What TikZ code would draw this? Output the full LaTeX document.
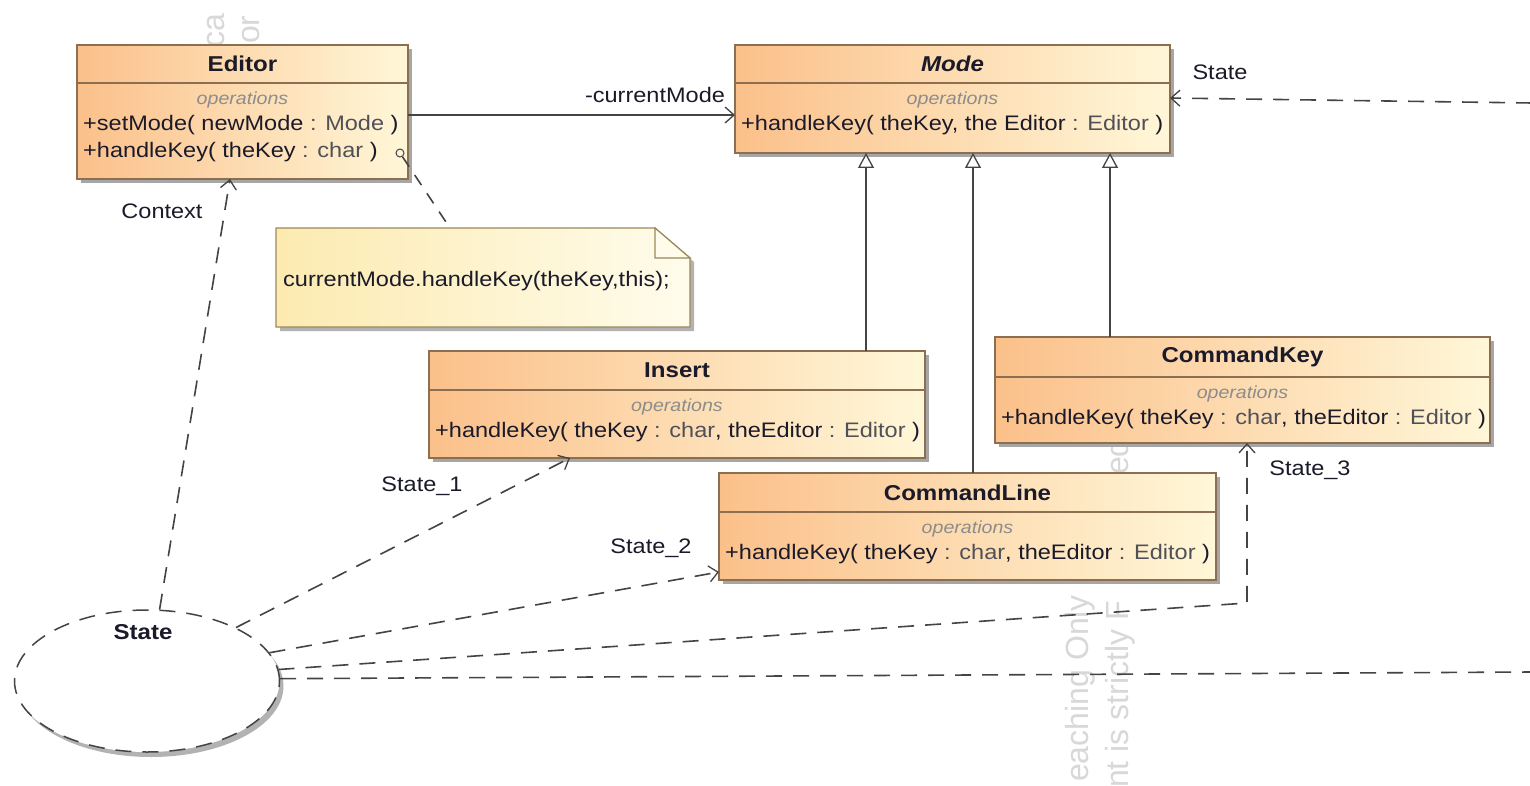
\documentclass[tikz,border=0pt]{standalone}
\usepackage{fontspec}
\setmainfont{Liberation Sans}[FakeStretch=1.12]
\newfontfamily\wmfont{Liberation Sans}
\usetikzlibrary{arrows.meta,shapes.geometric,shadows,calc}

\definecolor{boxL}{HTML}{FBC08A}
\definecolor{boxR}{HTML}{FFF7D8}
\definecolor{boxB}{HTML}{8C6E50}
\definecolor{txt}{HTML}{1A1A2A}
\definecolor{typ}{HTML}{505058}
\definecolor{opsc}{HTML}{8C8C8C}
\definecolor{dashc}{HTML}{444444}
\definecolor{noteL}{HTML}{FCEAB0}
\definecolor{noteR}{HTML}{FFFCEC}
\definecolor{noteB}{HTML}{9A8A5A}
\definecolor{wmc}{HTML}{D8D8D8}

\newcommand\ty[1]{\textcolor{typ}{#1}}
\newcommand\umlclass[8]{%
  \node[classbox, minimum width={(#4-#2)*1pt}, minimum height={(#5-#3)*1pt}] (#1) at (#2,#3) {};
  \draw[boxB, line width=1.3pt] (#2,#6) -- (#4,#6);
  \node[titletext] (#1-title) at ({(#2+#4)/2},{(#3+#6)/2}) {#7};
  \node[opstext] (#1-ops) at ({(#2+#4)/2},#6+17) {operations};
  \node[optext] (#1-op) at (#2+6,#6+42) {#8};
}

\tikzset{
  classbox/.style={draw=boxB, line width=1.3pt, left color=boxL, right color=boxR,
    inner sep=0pt, outer sep=0pt, anchor=north west,
    drop shadow={shadow xshift=4pt, shadow yshift=-4pt, fill=black!35, opacity=1}},
  titletext/.style={font=\fontsize{21.5}{25}\selectfont\bfseries, text=txt, inner sep=0pt},
  opstext/.style={font=\fontsize{17.5}{20}\selectfont\itshape, text=opsc, inner sep=0pt},
  optext/.style={font=\fontsize{21}{25}\selectfont, text=txt, inner sep=0pt, anchor=west},
  lbl/.style={font=\fontsize{21}{25}\selectfont, text=txt, inner sep=0pt},
  wm/.style={font=\wmfont\fontsize{32}{36}\selectfont, text=wmc, rotate=90, inner sep=0pt, anchor=base west},
  dep/.style={draw=dashc, line width=1.6pt, dash pattern=on 16pt off 11pt,
    -{Straight Barb[length=9pt, width=16pt, line width=1.3pt]}},
  deplain/.style={draw=dashc, line width=1.6pt, dash pattern=on 16pt off 11pt},
  assoc/.style={draw=dashc, line width=1.5pt, -{Straight Barb[length=9pt, width=16pt, line width=1.3pt]}},
  gen/.style={draw=dashc, line width=1.5pt, -{Triangle[open, length=15pt, width=16pt, line width=1.3pt, fill=white]}},
}

\begin{document}
\begin{tikzpicture}[x=1pt, y=-1pt]
\useasboundingbox (0,0) rectangle (1530,786);
\clip (0,0) rectangle (1530,786);
\fill[white] (0,0) rectangle (1530,786);

% watermark fragments
\node[wm] (wm1) at (224,48) {ca};
\node[wm] (wm2) at (259,44) {or};
\node[wm] (wm3) at (1088,782) {eaching Only};
\node[wm] (wm4) at (1128,788) {nt is strictly F};
\node[wm] (wm5) at (1128,475) {ed};

% classes
\umlclass{editor}{77}{45}{408}{179}{83}{Editor}{+setMode( newMode \ty{: Mode} )}
\node[optext] (editor-op2) at (83,152) {+handleKey( theKey \ty{: char} )};
\umlclass{mode}{735}{45}{1170}{153}{83}{\itshape Mode}{+handleKey( theKey, the Editor \ty{: Editor} )}
\umlclass{insert}{429}{351}{925}{458}{390}{Insert}{+handleKey( theKey \ty{: char}, theEditor \ty{: Editor} )}
\umlclass{ck}{995}{337}{1490}{443}{377}{CommandKey}{+handleKey( theKey \ty{: char}, theEditor \ty{: Editor} )}
\umlclass{cl}{719}{473}{1216}{580}{512}{CommandLine}{+handleKey( theKey \ty{: char}, theEditor \ty{: Editor} )}

% note
\begin{scope}[shift={(4,4)}]
  \fill[black!30] (276,228) -- (655,228) -- (690,258) -- (690,327) -- (276,327) -- cycle;
\end{scope}
\node[inner sep=0pt, minimum width=414pt, minimum height=99pt, anchor=north west] (note) at (276,228) {};
\path[draw=noteB, line width=1.2pt, left color=noteL, right color=noteR]
  (276,228) -- (655,228) -- (690,258) -- (690,327) -- (276,327) -- cycle;
\draw[noteB, line width=1.2pt, fill=noteR] (655,228) -- (655,258) -- (690,258) -- cycle;
\node[optext] (notetext) at (283,281) {currentMode.handleKey(theKey,this);};

% note anchor
\node[circle, draw=dashc, line width=1pt, inner sep=0pt, minimum size=8pt] (anc) at (400,153) {};
\coordinate (nx) at (450,0);
\draw[deplain, dash pattern=on 12pt off 10pt] (anc) -- (note.north -| nx);

% state ellipse
\node[ellipse, draw=dashc, fill=white, line width=1.5pt, dash pattern=on 16pt off 11pt,
  minimum width=265pt, minimum height=142pt, inner sep=0pt,
  drop shadow={shadow xshift=4pt, shadow yshift=-5pt, fill=black!30, opacity=1}] (state) at (147,681) {};
\node[titletext] (state-label) at (143,632) {State};

% association
\coordinate (ay) at (0,115);
\draw[assoc] (editor.east |- ay) -- (mode.west |- ay);
\node[lbl] (l-cm) at (655,95) {-currentMode};

% generalizations
\coordinate (g1) at (866,0);
\coordinate (g2) at (973,0);
\coordinate (g3) at (1110,0);
\draw[gen] (insert.north -| g1) -- (mode.south -| g1);
\draw[gen] (cl.north -| g2) -- (mode.south -| g2);
\draw[gen] (ck.north -| g3) -- (mode.south -| g3);

% dependencies from State
\coordinate (cx) at (230,0);
\draw[dep] (state.80) -- (editor.south -| cx);
\node[lbl] (l-ctx) at (162,211) {Context};

\coordinate (c1) at (570,0);
\draw[dep] (state.31) -- (insert.south -| c1);
\node[lbl] (l-s1) at (422,486) {State\_1};

\coordinate (c2) at (0,572);
\draw[dep] (state.13) -- (cl.west |- c2);
\node[lbl] (l-s2) at (651,548) {State\_2};

\coordinate (s3bend) at (1247,603);
\draw[dep] (state.5) -- (s3bend) -- (ck.south -| s3bend);
\node[lbl] (l-s3) at (1310,470) {State\_3};

\coordinate (rb) at (1532,672);
\draw[deplain] (state.1) -- (rb);
\coordinate (ra) at (1532,103);
\coordinate (my) at (0,98);
\draw[dep] (ra) -- (mode.east |- my);
\node[lbl] (l-st) at (1220,72) {State};
\end{tikzpicture}
\end{document}
